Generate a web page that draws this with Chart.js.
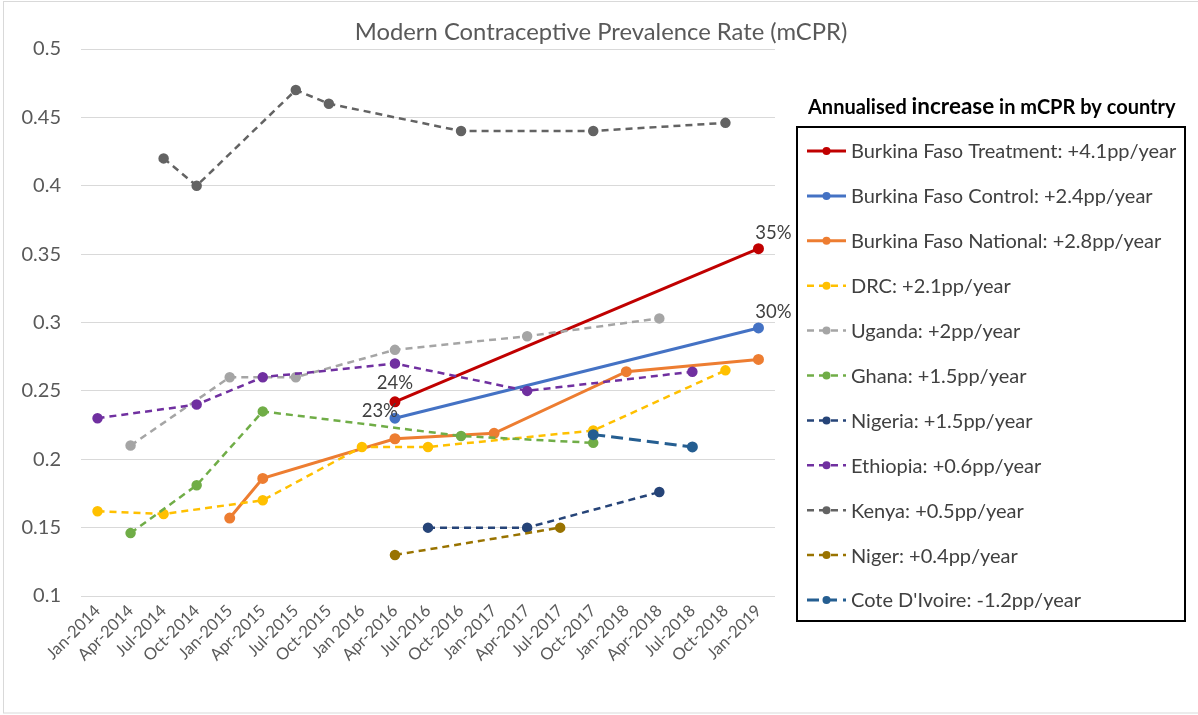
<!DOCTYPE html>
<html>
<head>
<meta charset="utf-8">
<title>Modern Contraceptive Prevalence Rate (mCPR)</title>
<script src="https://cdn.jsdelivr.net/npm/chart.js@4.4.1/dist/chart.umd.min.js"></script>
<style>
  html, body { margin: 0; padding: 0; background: #ffffff; }
  #wrap { width: 1198px; height: 715px; position: relative; }
</style>
</head>
<body>
<div id="wrap"><canvas id="c" width="1198" height="715"></canvas></div>
<script>
// Survey rounds (quarterly)
const months = ['Jan-2014','Apr-2014','Jul-2014','Oct-2014','Jan-2015','Apr-2015','Jul-2015','Oct-2015',
  'Jan 2016','Apr-2016','Jul-2016','Oct-2016','Jan-2017','Apr-2017','Jul-2017','Oct-2017',
  'Jan-2018','Apr-2018','Jul-2018','Oct-2018','Jan-2019'];

// mCPR by country (null = no survey in that quarter)
const burkinaTreatment = [null,null,null,null,null,null,null,null,null,0.242,null,null,null,null,null,null,null,null,null,null,0.354];
const burkinaControl   = [null,null,null,null,null,null,null,null,null,0.230,null,null,null,null,null,null,null,null,null,null,0.296];
const burkinaNational  = [null,null,null,null,0.157,0.186,null,null,null,0.215,null,null,0.219,null,null,null,0.264,null,null,null,0.273];
const drc              = [0.162,null,0.160,null,null,0.170,null,null,0.209,null,0.209,null,null,null,null,0.221,null,null,null,0.265,null];
const uganda           = [null,0.210,null,null,0.260,null,0.260,null,null,0.280,null,null,null,0.290,null,null,null,0.303,null,null,null];
const ghana            = [null,0.146,null,0.181,null,0.235,null,null,null,null,null,0.217,null,null,null,0.212,null,null,null,null,null];
const nigeria          = [null,null,null,null,null,null,null,null,null,null,0.150,null,null,0.150,null,null,null,0.176,null,null,null];
const ethiopia         = [0.230,null,null,0.240,null,0.260,null,null,null,0.270,null,null,null,0.250,null,null,null,null,0.264,null,null];
const kenya            = [null,null,0.420,0.400,null,null,0.470,0.460,null,null,null,0.440,null,null,null,0.440,null,null,null,0.446,null];
const niger            = [null,null,null,null,null,null,null,null,null,0.130,null,null,null,null,0.150,null,null,null,null,null,null];
const coteDIvoire      = [null,null,null,null,null,null,null,null,null,null,null,null,null,null,null,0.218,null,null,0.209,null,null];

// Annualised change shown in the legend (percentage points per year)
const seriesNames = ['Burkina Faso Treatment','Burkina Faso Control','Burkina Faso National','DRC','Uganda',
  'Ghana','Nigeria','Ethiopia','Kenya','Niger',"Cote D'Ivoire"];
const annualChange = ['+4.1','+2.4','+2.8','+2.1','+2','+1.5','+1.5','+0.6','+0.5','+0.4','-1.2'];

// y-axis range
const yMin = 0.1, yMax = 0.5, yStep = 0.05;

const FONT = 'Lato, "Open Sans", sans-serif';
const seriesValues = [burkinaTreatment, burkinaControl, burkinaNational, drc, uganda, ghana, nigeria, ethiopia, kenya, niger, coteDIvoire];
const colors = ['#C00000','#4472C4','#ED7D31','#FFC000','#A5A5A5','#70AD47','#264478','#7030A0','#636363','#997300','#255E91'];
const dashes = [[],[],[],[7,5],[7,5],[7,5],[7,5],[7,5],[7,5],[7,5],[12,6]];
const widths = [3,3,3,2.5,2.5,2.5,2.5,2.5,2.5,2.5,3];
// which series get value labels at their end points
const labelled = [0, 1];

const datasets = seriesValues.map((vals, i) => ({
  label: seriesNames[i] + ': ' + annualChange[i] + 'pp/year',
  data: vals,
  borderColor: colors[i],
  backgroundColor: colors[i],
  pointBackgroundColor: colors[i],
  pointBorderColor: colors[i],
  borderWidth: widths[i],
  borderDash: dashes[i],
  pointRadius: 4,
  pointHoverRadius: 4,
  spanGaps: true,
  tension: 0,
  order: seriesValues.length - i
}));

// Frame, title, boxed legend and end-point value labels
const decorations = {
  id: 'decorations',
  beforeDraw(chart) {
    const ctx = chart.ctx;
    ctx.save();
    ctx.strokeStyle = '#d9d9d9';
    ctx.lineWidth = 1;
    ctx.strokeRect(3.5, 1.5, 1200, 711.5);
    ctx.restore();
  },
  afterDatasetsDraw(chart) {
    const ctx = chart.ctx;
    ctx.save();
    // Title
    ctx.fillStyle = '#595959';
    ctx.font = '23.8px ' + FONT;
    ctx.textAlign = 'center';
    ctx.textBaseline = 'middle';
    ctx.fillText('Modern Contraceptive Prevalence Rate (mCPR)', 601, 32);

    // Value labels on the Burkina Faso Treatment / Control end points
    ctx.font = '18.5px ' + FONT;
    ctx.fillStyle = '#404040';
    labelled.forEach(di => {
      const meta = chart.getDatasetMeta(di);
      const vals = chart.data.datasets[di].data;
      const idx = vals.map((v, k) => v == null ? -1 : k).filter(k => k >= 0);
      const first = idx[0], last = idx[idx.length - 1];
      const pf = meta.data[first], pl = meta.data[last];
      const txtF = Math.round(vals[first] * 100) + '%';
      const txtL = Math.round(vals[last] * 100) + '%';
      if (di === 0) {
        ctx.textAlign = 'center';
        ctx.fillText(txtF, pf.x, pf.y - 19);
      } else {
        ctx.textAlign = 'right';
        ctx.fillText(txtF, pf.x + 3, pf.y - 7);
      }
      ctx.textAlign = 'center';
      ctx.fillText(txtL, pl.x + 15, pl.y - 16);
    });

    // Legend heading
    ctx.fillStyle = '#000000';
    ctx.textAlign = 'left';
    ctx.textBaseline = 'alphabetic';
    let x = 808;
    const base = 114;
    ctx.font = 'bold 20px ' + FONT;
    ctx.fillText('Annualised ', x, base);
    x += ctx.measureText('Annualised ').width;
    ctx.font = 'bold 22.5px ' + FONT;
    ctx.fillText('increase', x, base);
    x += ctx.measureText('increase').width;
    ctx.font = 'bold 20px ' + FONT;
    ctx.fillText(' in mCPR by country', x, base);

    // Legend box
    ctx.strokeStyle = '#000000';
    ctx.lineWidth = 2;
    ctx.strokeRect(797, 127, 388, 494);

    // Legend entries from the datasets
    ctx.font = '20px ' + FONT;
    ctx.textBaseline = 'middle';
    chart.data.datasets.forEach((ds, i) => {
      const y = 151 + i * 44.9;
      ctx.strokeStyle = ds.borderColor;
      ctx.lineWidth = ds.borderWidth;
      ctx.setLineDash(ds.borderDash);
      ctx.beginPath();
      ctx.moveTo(807, y);
      ctx.lineTo(846, y);
      ctx.stroke();
      ctx.setLineDash([]);
      ctx.fillStyle = ds.borderColor;
      ctx.beginPath();
      ctx.arc(826.5, y, 4, 0, Math.PI * 2);
      ctx.fill();
      ctx.fillStyle = '#404040';
      ctx.fillText(ds.label, 851, y + 1);
    });
    ctx.restore();
  }
};

new Chart(document.getElementById('c'), {
  type: 'line',
  data: { labels: months, datasets },
  options: {
    responsive: false,
    animation: false,
    events: [],
    layout: { padding: { left: 0, right: 423, top: 49, bottom: 0 } },
    plugins: {
      legend: { display: false },
      title: { display: false },
      tooltip: { enabled: false }
    },
    scales: {
      x: {
        offset: true,
        grid: { display: false, drawTicks: false },
        border: { display: false },
        ticks: {
          autoSkip: false,
          maxRotation: 45,
          minRotation: 45,
          padding: 5,
          color: '#595959',
          font: { family: FONT, size: 16.5 }
        },
        afterFit(scale) { scale.height = 715 - 596; }
      },
      y: {
        min: yMin,
        max: yMax,
        grid: { color: '#d9d9d9', lineWidth: 1, drawTicks: false },
        border: { display: false },
        ticks: {
          stepSize: yStep,
          padding: 20,
          color: '#595959',
          font: { family: FONT, size: 20 },
          callback: v => String(Number(v.toFixed(2)))
        },
        afterFit(scale) { scale.width = 81; }
      }
    }
  },
  plugins: [decorations]
});
</script>
</body>
</html>
